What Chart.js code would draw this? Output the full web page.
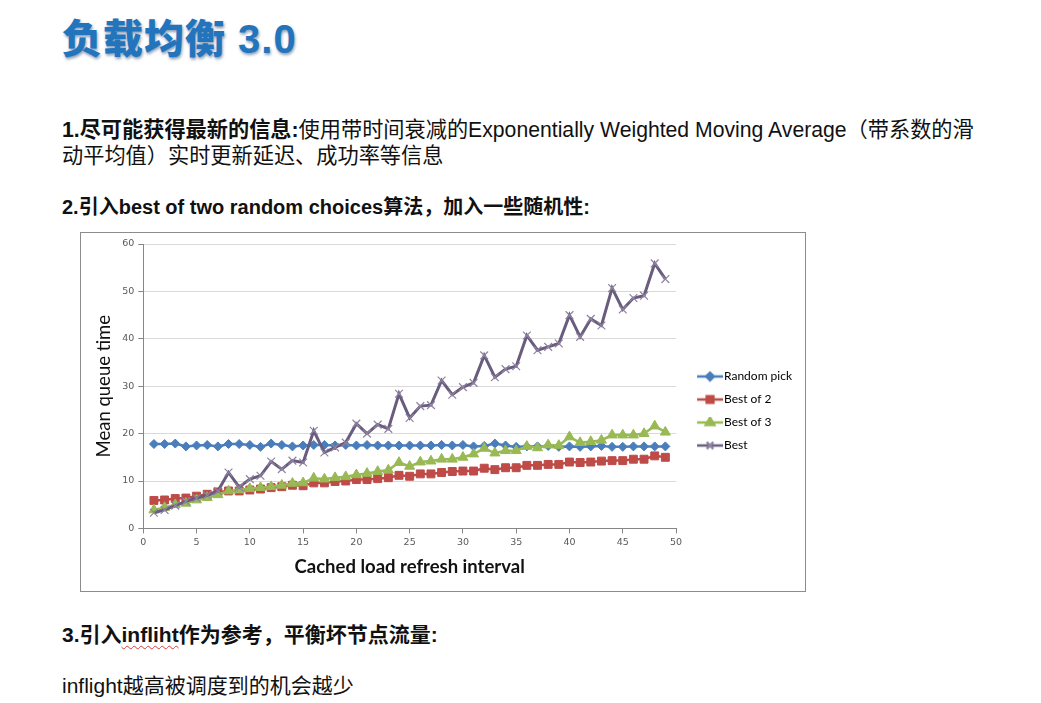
<!DOCTYPE html>
<html><head><meta charset="utf-8">
<script src="https://cdn.jsdelivr.net/npm/chart.js@4/dist/chart.umd.min.js"></script>
<style>
html,body{margin:0;padding:0;background:#fff;}
body{width:1041px;height:703px;overflow:hidden;position:relative;font-family:"Liberation Sans",Arial,"Noto Sans CJK SC",sans-serif;color:#111;}
.title{position:absolute;left:62px;top:14px;font-size:40px;line-height:50px;font-weight:900;color:#2274bd;white-space:nowrap;
 font-family:"Liberation Sans",Arial,"Noto Sans CJK SC",sans-serif;text-shadow:1px 2px 3px rgba(0,40,90,0.45);letter-spacing:1px;}
.t{position:absolute;left:62px;white-space:nowrap;font-size:20px;line-height:26px;}
.b{font-weight:bold;}
.wavy{text-decoration:underline wavy #d04040;text-decoration-thickness:1px;text-underline-offset:3px;}
#box{position:absolute;left:80px;top:232px;width:724px;height:358px;border:1px solid #8c8c8c;background:#fff;}
#box canvas{position:absolute;left:0;top:0;}
</style></head>
<body>
<div class="title">负载均衡 3.0</div>
<div class="t" style="top:117px;font-size:21.2px"><span class="b">1.尽可能获得最新的信息:</span>使用带时间衰减的Exponentially Weighted Moving Average（带系数的滑<br>动平均值）实时更新延迟、成功率等信息</div>
<div class="t b" style="top:194px">2.引入best of two random choices算法，加入一些随机性:</div>
<div class="t b" style="top:622px;font-size:21px">3.引入<span class="wavy">infliht</span>作为参考，平衡坏节点流量:</div>
<div class="t" style="top:673px;font-size:21px">inflight越高被调度到的机会越少</div>
<div id="box"><canvas id="c" width="724" height="358"></canvas></div>
<script>
const intervals = [1,2,3,4,5,6,7,8,9,10,11,12,13,14,15,16,17,18,19,20,21,22,23,24,25,26,27,28,29,30,31,32,33,34,35,36,37,38,39,40,41,42,43,44,45,46,47,48,49];
const randomPick = [17.8,17.8,17.9,17.3,17.5,17.6,17.3,17.8,17.8,17.6,17.2,17.9,17.6,17.3,17.5,17.6,17.6,17.5,17.6,17.5,17.6,17.5,17.5,17.5,17.5,17.5,17.5,17.6,17.5,17.6,17.3,17.4,17.9,17.5,17.2,17.3,17.3,17.4,17.2,17.3,17.2,17.3,17.4,17.2,17.2,17.3,17.3,17.3,17.3];
const bestOf2 = [5.9,6.0,6.3,6.4,6.8,7.2,7.7,7.9,7.9,8.1,8.3,8.6,8.8,9.1,9.0,9.6,9.6,9.9,10.0,10.3,10.3,10.5,10.7,11.2,11.0,11.5,11.5,11.8,12.0,12.1,12.1,12.7,12.4,12.8,12.8,13.3,13.3,13.5,13.5,14.0,13.9,14.0,14.2,14.3,14.3,14.6,14.6,15.3,15.0];
const bestOf3 = [3.9,4.4,5.0,5.3,6.0,6.5,7.1,7.9,8.1,8.4,8.6,8.8,9.1,9.5,9.6,10.6,10.4,10.7,10.9,11.3,11.6,12.0,12.3,13.9,13.1,14.0,14.2,14.6,14.6,15.0,15.7,16.9,15.9,16.4,16.4,17.3,17.0,17.6,17.5,19.3,18.1,18.3,18.6,19.7,19.7,19.7,20.0,21.6,20.3];
const best = [3.3,3.9,4.8,5.7,6.4,7.0,7.9,11.8,8.7,10.4,11.1,14.1,12.5,14.3,13.9,20.6,16.0,17.1,18.1,22.1,20.0,21.9,21.0,28.4,23.3,25.8,26.0,31.2,28.2,29.8,30.7,36.5,31.9,33.6,34.2,40.7,37.6,38.3,39.0,45.0,40.4,44.2,42.8,50.7,46.2,48.6,49.1,55.9,52.6];
const seriesNames = ['Random pick','Best of 2','Best of 3','Best'];
const xTicks = [0,5,10,15,20,25,30,35,40,45,50];
const yTicks = [0,10,20,30,40,50,60];
const xTitle = 'Cached load refresh interval';
const yTitle = 'Mean queue time';

const pts = arr => arr.map((v,i)=>({x:intervals[i], y:v}));
const styles = [
  {line:'#4a7ebb', fill:'#4a7ebb', point:'rectRot', r:4.5, bw:1, order:4, lw:2.5},
  {line:'#be4b48', fill:'#be4b48', point:'rect', r:5.6, bw:1, order:3, lw:2.5},
  {line:'#98b954', fill:'#98b954', point:'triangle', r:5.8, bw:1, order:2, lw:2.5},
  {line:'#6a5c7e', fill:'#8f84a0', point:'crossRot', r:5.5, bw:1.2, order:1, lw:3}
];
const dataArrs = [randomPick,bestOf2,bestOf3,best];
const datasets = dataArrs.map((arr,i)=>({
  label: seriesNames[i], data: pts(arr),
  borderColor: styles[i].line, backgroundColor: styles[i].fill,
  borderWidth: styles[i].lw, pointStyle: styles[i].point, pointRadius: styles[i].r,
  pointBackgroundColor: styles[i].fill, pointBorderColor: styles[i].fill,
  pointBorderWidth: styles[i].bw, tension:0, order: styles[i].order
}));

// legend icon: 41px wide image, visible line+marker in its right 26px
function legendIcon(i){
  const c = document.createElement('canvas');
  c.width = 41; c.height = 12;
  const ctx = c.getContext('2d');
  ctx.strokeStyle = styles[i].line; ctx.lineWidth = 2.5;
  ctx.beginPath(); ctx.moveTo(15,6); ctx.lineTo(41,6); ctx.stroke();
  ctx.fillStyle = styles[i].fill; ctx.strokeStyle = styles[i].fill;
  Chart.helpers.drawPoint(ctx, {pointStyle: styles[i].point, radius: styles[i].r*0.85, borderWidth: styles[i].bw}, 28, 6);
  return c;
}

Chart.defaults.font.family = 'Lato, "DejaVu Sans", sans-serif';
new Chart(document.getElementById('c'), {
  type: 'line',
  data: { datasets },
  options: {
    responsive: false, animation: false, devicePixelRatio: 1,
    layout: { padding: { left: 12, right: 3, top: 11, bottom: 13 } },
    plugins: {
      tooltip: {enabled:false},
      legend: {
        position: 'right',
        labels: {
          usePointStyle: true, pointStyleWidth: 31, boxHeight: 12,
          padding: 11, color: '#404040', font: {size: 12, family: 'Lato, sans-serif'},
          generateLabels: (chart) => chart.data.datasets.map((ds,i)=>({
            text: ds.label, pointStyle: legendIcon(i), fillStyle: styles[i].fill,
            strokeStyle: styles[i].line, lineWidth: 0, hidden: false, datasetIndex: i
          }))
        }
      }
    },
    scales: {
      x: {
        type: 'linear', min: 0, max: 50,
        afterBuildTicks: ax => { ax.ticks = xTicks.map(v=>({value:v})); },
        grid: { drawOnChartArea: false, color: '#868686', tickColor: '#868686', tickLength: 5 },
        border: { color: '#868686', width: 1 },
        ticks: { color: '#595959', font: {size: 9.5, family: '"DejaVu Sans", sans-serif'}, padding: 3, maxRotation: 0 },
        title: { display: true, text: xTitle, color: '#111', font: {size: 18.5, weight: 'bold', family: 'Lato, sans-serif'}, padding: {top: 5, bottom: 0} }
      },
      y: {
        min: 0, max: 60,
        afterBuildTicks: ax => { ax.ticks = yTicks.map(v=>({value:v})); },
        grid: { color: '#d9d9d9', tickColor: '#868686', tickLength: 5 },
        border: { color: '#868686', width: 1 },
        ticks: { color: '#595959', font: {size: 9.5, family: '"DejaVu Sans", sans-serif'}, padding: 4 },
        title: { display: true, text: yTitle, color: '#111', font: {size: 18.5, family: 'Lato, sans-serif'}, padding: {top: 0, bottom: 3} }
      }
    }
  }
});
</script>
</body></html>
